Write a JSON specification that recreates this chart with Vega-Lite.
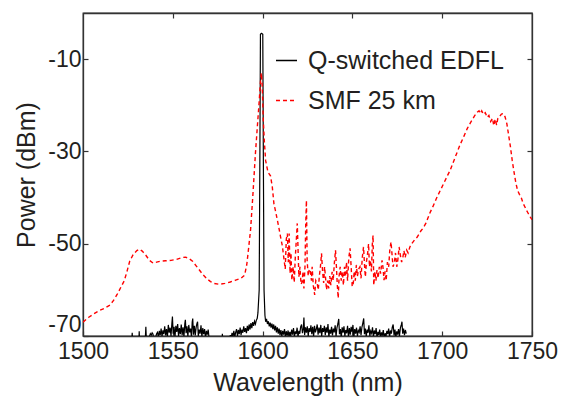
{
"$schema": "https://vega.github.io/schema/vega-lite/v6.json",
"width": 449, "height": 323,
"autosize": "none",
"padding": {"left": 83, "top": 13, "right": 31, "bottom": 64},
"background": "white",
"config": {
  "view": {"stroke": "#333333", "strokeWidth": 1.3},
  "font": "Liberation Sans",
  "axis": {"domainColor": "#333333", "domainWidth": 1.3, "tickColor": "#333333", "tickWidth": 1.2, "tickSize": -5, "grid": false,
           "labelFont": "Liberation Sans", "labelFontSize": 23, "labelColor": "#231f20",
           "titleFont": "Liberation Sans", "titleFontSize": 25, "titleFontWeight": "normal", "titleColor": "#231f20"},
  "legend": {"orient": "none", "legendX": 191, "legendY": 35, "title": null, "labelFont": "Liberation Sans", "labelFontSize": 25, "labelColor": "#231f20", "labelLimit": 0,
             "symbolType": "stroke", "symbolSize": 441, "symbolStrokeWidth": 1.4, "labelOffset": 9, "rowPadding": 14}
},
"resolve": {"axis": {"x": "independent", "y": "independent"}},
"layer": [
{
  "data": {"values": [
{"w":1525,"p":-72},{"w":1527,"p":-72},{"w":1527.4,"p":-69.3},{"w":1527.8,"p":-72},{"w":1531,"p":-72},{"w":1531.3,"p":-69},{"w":1531.6,"p":-72},{"w":1534.5,"p":-72},{"w":1535,"p":-68},{"w":1535.4,"p":-72},{"w":1537.5,"p":-69.5},{"w":1538,"p":-69.8},{"w":1538.5,"p":-69.3},{"w":1539,"p":-69.6},{"w":1539.5,"p":-72},{"w":1540.5,"p":-70.2},{"w":1541,"p":-69.5},
{"w":1541.5,"p":-69.2},{"w":1542,"p":-70.3},{"w":1542.5,"p":-68.9},{"w":1543,"p":-69.8},{"w":1543.5,"p":-68.4},{"w":1544,"p":-70.1},{"w":1544.5,"p":-68.8},{"w":1545,"p":-69.6},{"w":1545.5,"p":-67.9},{"w":1546,"p":-69.9},{"w":1546.5,"p":-68.5},{"w":1547,"p":-70.2},{"w":1547.5,"p":-67.6},{"w":1548,"p":-69.3},{"w":1548.5,"p":-68.2},{"w":1549,"p":-70},{"w":1549.5,"p":-67.2},{"w":1549.8,"p":-65.8},{"w":1550.2,"p":-69.5},{"w":1550.7,"p":-68},{"w":1551.2,"p":-70.3},{"w":1551.7,"p":-67.8},{"w":1552.2,"p":-69.1},{"w":1552.7,"p":-67.4},{"w":1553.2,"p":-70},{"w":1553.7,"p":-68.3},{"w":1554.2,"p":-69.6},{"w":1554.7,"p":-67.5},{"w":1555.2,"p":-69.8},{"w":1555.7,"p":-68.1},{"w":1556.2,"p":-70.2},{"w":1556.7,"p":-67.3},{"w":1557,"p":-66.5},{"w":1557.4,"p":-69.4},{"w":1557.9,"p":-67.9},{"w":1558.4,"p":-70.1},{"w":1558.9,"p":-67.6},{"w":1559.4,"p":-69.2},{"w":1559.9,"p":-68.4},{"w":1560.4,"p":-70.3},{"w":1560.8,"p":-67},{"w":1561.1,"p":-66.2},{"w":1561.5,"p":-69.7},{"w":1562,"p":-67.8},{"w":1562.5,"p":-69.9},{"w":1563,"p":-68.1},{"w":1563.5,"p":-67.2},{"w":1563.8,"p":-66.9},{"w":1564.2,"p":-70},{"w":1564.7,"p":-68.6},{"w":1565.2,"p":-69.5},{"w":1565.7,"p":-67.7},{"w":1566.2,"p":-70.2},{"w":1566.7,"p":-68.3},{"w":1567.2,"p":-69.6},{"w":1567.7,"p":-68.5},{"w":1568.2,"p":-70.4},{"w":1568.7,"p":-68.9},{"w":1569.2,"p":-69.7},{"w":1569.7,"p":-68.6},{"w":1570.2,"p":-70.5},{"w":1570.6,"p":-72},
{"w":1577.3,"p":-72},{"w":1577.6,"p":-69.5},{"w":1577.9,"p":-72},{"w":1581.5,"p":-72},{"w":1582,"p":-69.8},
{"w":1582.5,"p":-70.4},{"w":1583,"p":-69.3},{"w":1583.5,"p":-70.1},{"w":1584,"p":-68.9},{"w":1584.5,"p":-70.3},{"w":1585,"p":-69.2},{"w":1585.5,"p":-68.5},{"w":1586,"p":-70},{"w":1586.5,"p":-68.7},{"w":1587,"p":-69.6},{"w":1587.5,"p":-68.2},{"w":1588,"p":-69.8},{"w":1588.5,"p":-68.6},{"w":1589,"p":-69.3},{"w":1589.5,"p":-67.9},{"w":1590,"p":-69.1},{"w":1590.5,"p":-68.3},{"w":1591,"p":-69.4},{"w":1591.5,"p":-67.8},{"w":1592,"p":-68.9},{"w":1592.5,"p":-67.5},{"w":1593,"p":-68.6},{"w":1593.5,"p":-67.2},{"w":1594,"p":-68.3},{"w":1594.5,"p":-67},{"w":1595,"p":-67.8},{"w":1595.5,"p":-66.8},{"w":1596,"p":-67.4},{"w":1596.5,"p":-66.6},{"w":1597,"p":-66.2},{"w":1597.4,"p":-65},
{"w":1598.1,"p":-60},{"w":1598.5,"p":-30},{"w":1598.8,"p":-4.6},{"w":1599.3,"p":-4.4},{"w":1599.8,"p":-4.5},{"w":1600.1,"p":-4.6},{"w":1600.4,"p":-30},{"w":1600.8,"p":-60},{"w":1601.3,"p":-65.5},
{"w":1601.7,"p":-66.9},{"w":1602.2,"p":-66.3},{"w":1602.7,"p":-67.4},{"w":1603.2,"p":-66.8},{"w":1603.7,"p":-67.9},{"w":1604.2,"p":-67.1},{"w":1604.7,"p":-68.2},{"w":1605.2,"p":-67.3},{"w":1605.7,"p":-68.5},{"w":1606.2,"p":-67.5},{"w":1606.7,"p":-68.8},{"w":1607.2,"p":-67.8},{"w":1607.7,"p":-69.2},{"w":1608.2,"p":-68.1},{"w":1608.7,"p":-69.5},{"w":1609.2,"p":-68.4},{"w":1609.7,"p":-69.8},{"w":1610.2,"p":-68.7},{"w":1610.7,"p":-70.1},{"w":1611.2,"p":-68.9},{"w":1611.7,"p":-69.7},{"w":1612.2,"p":-68.5},{"w":1612.7,"p":-70.2},{"w":1613.2,"p":-69},{"w":1613.7,"p":-69.9},{"w":1614.2,"p":-68.8},{"w":1614.7,"p":-70.3},{"w":1615.2,"p":-69.1},{"w":1615.7,"p":-70},{"w":1616.2,"p":-68.6},{"w":1616.7,"p":-69.7},{"w":1617.2,"p":-68.3},{"w":1617.7,"p":-70.1},{"w":1618.2,"p":-69},{"w":1618.7,"p":-69.6},{"w":1619.2,"p":-68.2},{"w":1619.7,"p":-70.2},{"w":1620.2,"p":-68.9},{"w":1620.7,"p":-69.5},{"w":1621.2,"p":-68},{"w":1621.7,"p":-67.5},{"w":1622.2,"p":-69.4},{"w":1622.7,"p":-68.4},{"w":1623,"p":-66},{"w":1623.4,"p":-69.8},{"w":1623.9,"p":-68.1},{"w":1624.4,"p":-69.3},{"w":1624.9,"p":-67.9},{"w":1625.4,"p":-70},{"w":1625.9,"p":-68.3},{"w":1626.4,"p":-69.1},{"w":1626.9,"p":-67.7},{"w":1627.4,"p":-69.6},{"w":1627.9,"p":-68},{"w":1628.4,"p":-70.1},{"w":1628.9,"p":-67.8},{"w":1629.4,"p":-69.2},{"w":1629.9,"p":-68.5},{"w":1630.4,"p":-67.5},{"w":1630.9,"p":-69.7},{"w":1631.4,"p":-68.2},{"w":1631.9,"p":-69.4},{"w":1632.4,"p":-67.6},{"w":1632.9,"p":-70},{"w":1633.4,"p":-68.3},{"w":1633.9,"p":-69.1},{"w":1634.4,"p":-67.8},{"w":1634.9,"p":-69.8},{"w":1635.4,"p":-68.1},{"w":1635.9,"p":-69.3},{"w":1636.4,"p":-67.4},{"w":1636.9,"p":-70.2},{"w":1637.4,"p":-68.6},{"w":1637.9,"p":-69.5},{"w":1638.4,"p":-68},{"w":1638.9,"p":-69.9},{"w":1639.4,"p":-68.4},{"w":1639.9,"p":-69.2},{"w":1640.4,"p":-67.7},{"w":1640.9,"p":-70.1},{"w":1641.4,"p":-68.2},{"w":1641.9,"p":-67.4},{"w":1642.4,"p":-66.3},{"w":1642.8,"p":-69.6},{"w":1643.3,"p":-68.5},{"w":1643.8,"p":-70.4},{"w":1644.3,"p":-68.1},{"w":1644.8,"p":-69.3},{"w":1645.3,"p":-67.9},{"w":1645.8,"p":-70},{"w":1646.3,"p":-68.7},{"w":1646.8,"p":-69.4},{"w":1647.3,"p":-67.8},{"w":1647.8,"p":-70.2},{"w":1648.3,"p":-68.3},{"w":1648.8,"p":-69.7},{"w":1649.3,"p":-68},{"w":1649.8,"p":-69.1},{"w":1650.3,"p":-67.6},{"w":1650.8,"p":-70.3},{"w":1651.3,"p":-68.5},{"w":1651.8,"p":-69.5},{"w":1652.3,"p":-68.2},{"w":1652.8,"p":-70},{"w":1653.3,"p":-68.8},{"w":1653.8,"p":-69.2},{"w":1654.3,"p":-67.9},{"w":1654.8,"p":-69.8},{"w":1655.3,"p":-68.1},{"w":1655.8,"p":-67.2},{"w":1656.3,"p":-66.2},{"w":1656.7,"p":-69.6},{"w":1657.2,"p":-68.4},{"w":1657.7,"p":-70.1},{"w":1658.2,"p":-68.6},{"w":1658.7,"p":-69.3},{"w":1659.2,"p":-67.7},{"w":1659.7,"p":-70},{"w":1660.2,"p":-68.9},{"w":1660.7,"p":-69.4},{"w":1661.2,"p":-68.1},{"w":1661.7,"p":-70.2},{"w":1662.2,"p":-68.8},{"w":1662.7,"p":-69.6},{"w":1663.2,"p":-68.3},{"w":1663.7,"p":-70.4},{"w":1664.2,"p":-69.1},{"w":1664.7,"p":-69.8},{"w":1665.2,"p":-68.6},{"w":1665.7,"p":-70.3},{"w":1666.2,"p":-69.2},{"w":1666.7,"p":-69.9},{"w":1667.2,"p":-68.7},{"w":1667.7,"p":-70.5},{"w":1668.2,"p":-69.4},{"w":1668.7,"p":-70.1},{"w":1669.2,"p":-68.9},{"w":1669.7,"p":-69.6},{"w":1670.2,"p":-68.4},{"w":1670.7,"p":-70.2},{"w":1671.2,"p":-68.8},{"w":1671.7,"p":-69.5},{"w":1672.2,"p":-68.1},{"w":1672.7,"p":-67.5},{"w":1673.2,"p":-69.9},{"w":1673.7,"p":-68.6},{"w":1674.2,"p":-70.3},{"w":1674.7,"p":-69},{"w":1675.2,"p":-69.7},{"w":1675.7,"p":-68.5},{"w":1676.2,"p":-70},{"w":1676.7,"p":-68.3},{"w":1677.2,"p":-67.6},{"w":1677.6,"p":-66.9},{"w":1678,"p":-69.5},{"w":1678.5,"p":-68.4},{"w":1679,"p":-69.8},{"w":1679.5,"p":-68.7},{"w":1680,"p":-69.5}
  ]},
  "mark": {"type": "line", "clip": true, "strokeWidth": 1.2},
  "encoding": {
    "x": {"field": "w", "type": "quantitative", "scale": {"domain": [1500, 1750], "nice": false, "zero": false},
          "axis": {"orient": "bottom", "values": [1500, 1550, 1600, 1650, 1700, 1750], "labelExpr": "datum.value + ''", "labelFlush": false, "title": "Wavelength (nm)", "titleFontSize": 25, "labelPadding": 9, "titlePadding": 7}},
    "y": {"field": "p", "type": "quantitative", "scale": {"domain": [-70, 0], "nice": false, "zero": false},
          "axis": {"orient": "left", "values": [-70, -50, -30, -10], "labelExpr": "datum.value + ''", "labelFlush": true, "title": "Power (dBm)", "labelPadding": 7, "titlePadding": 8}},
    "color": {"datum": "Q-switched EDFL", "type": "nominal", "scale": {"domain": ["Q-switched EDFL", "SMF 25 km"], "range": ["#000000", "#ff0000"]}, "legend": {"title": null}},
    "strokeDash": {"datum": "Q-switched EDFL", "type": "nominal", "scale": {"domain": ["Q-switched EDFL", "SMF 25 km"], "range": [[1, 0], [4, 3]]}, "legend": {"title": null}}
  }
},
{
  "data": {"values": [
{"w":1500,"p":-67},{"w":1503,"p":-66},{"w":1506,"p":-65.2},{"w":1509,"p":-64.5},{"w":1512,"p":-64},{"w":1515,"p":-63.3},{"w":1517,"p":-62.3},{"w":1519,"p":-61},{"w":1521,"p":-59.5},{"w":1523,"p":-58},{"w":1524.5,"p":-56},{"w":1526,"p":-53.8},{"w":1528,"p":-52.3},{"w":1530,"p":-51.5},{"w":1531.5,"p":-51.2},{"w":1533,"p":-51.6},{"w":1535,"p":-52.5},{"w":1537,"p":-53.6},{"w":1539,"p":-54.2},{"w":1541,"p":-54},{"w":1543,"p":-53.8},{"w":1546,"p":-53.7},{"w":1549,"p":-53.6},{"w":1552,"p":-53.4},{"w":1555,"p":-53},{"w":1557,"p":-52.9},{"w":1559,"p":-53.2},{"w":1561,"p":-53.8},{"w":1563,"p":-54.8},{"w":1565,"p":-55.8},{"w":1567,"p":-56.8},{"w":1569,"p":-57.6},{"w":1571,"p":-58.2},{"w":1573,"p":-58.6},{"w":1576,"p":-58.8},{"w":1579,"p":-58.6},{"w":1582,"p":-58.3},{"w":1585,"p":-57.9},{"w":1588,"p":-57.5},{"w":1590,"p":-56.8},{"w":1591.2,"p":-54.5},{"w":1592.2,"p":-51},{"w":1593.3,"p":-47},{"w":1594.5,"p":-40},{"w":1596,"p":-30.5},{"w":1597,"p":-25},{"w":1598,"p":-19.7},{"w":1598.8,"p":-15},{"w":1599.3,"p":-13},{"w":1599.8,"p":-16},{"w":1600.4,"p":-23.3},{"w":1601,"p":-28},{"w":1601.7,"p":-32},{"w":1603,"p":-34.5},{"w":1604.4,"p":-35.3},{"w":1605.4,"p":-37.7},{"w":1606.3,"p":-41.3},{"w":1607.5,"p":-43.5},{"w":1609,"p":-46.4},{"w":1610,"p":-48.5},{"w":1611,"p":-50.5},{"w":1612,"p":-53.6},
{"w":1612.6,"p":-55.5},{"w":1613.2,"p":-49},{"w":1613.8,"p":-47.8},{"w":1614.3,"p":-54},{"w":1614.8,"p":-47.8},{"w":1615.3,"p":-56.4},{"w":1615.8,"p":-52},{"w":1616.3,"p":-57.9},{"w":1617,"p":-55},{"w":1617.6,"p":-58.4},{"w":1618.2,"p":-53},{"w":1618.8,"p":-49},{"w":1619.3,"p":-45.6},{"w":1619.8,"p":-52},{"w":1620.2,"p":-57.2},{"w":1620.8,"p":-55},{"w":1621.4,"p":-58.8},{"w":1622,"p":-58.3},{"w":1622.5,"p":-56},{"w":1623,"p":-59.7},{"w":1623.6,"p":-55},{"w":1624,"p":-46},{"w":1624.4,"p":-40.6},{"w":1624.8,"p":-53.6},{"w":1625.4,"p":-57},{"w":1626,"p":-55.5},{"w":1626.7,"p":-56.1},{"w":1627.2,"p":-58},{"w":1627.6,"p":-55},{"w":1628.2,"p":-59},{"w":1629,"p":-61.1},{"w":1629.6,"p":-58},{"w":1630.4,"p":-58.6},{"w":1631,"p":-60},{"w":1631.6,"p":-57},{"w":1632.2,"p":-55},{"w":1632.8,"p":-52.1},{"w":1633.4,"p":-56},{"w":1634,"p":-58.5},{"w":1634.5,"p":-55},{"w":1635,"p":-57.2},{"w":1635.6,"p":-60},{"w":1636.2,"p":-58},{"w":1636.8,"p":-59.7},{"w":1637.4,"p":-57},{"w":1638,"p":-59},{"w":1638.7,"p":-56.1},{"w":1639.3,"p":-58},{"w":1640,"p":-54},{"w":1640.6,"p":-51.4},{"w":1641.1,"p":-55},{"w":1641.6,"p":-59},{"w":1642.1,"p":-61.8},{"w":1642.6,"p":-57},{"w":1643.2,"p":-55},{"w":1643.8,"p":-58},{"w":1644.4,"p":-56},{"w":1645,"p":-59},{"w":1645.6,"p":-55},{"w":1646.1,"p":-57.2},{"w":1646.7,"p":-54},{"w":1647.3,"p":-58},{"w":1648,"p":-53},{"w":1648.7,"p":-51},{"w":1649.3,"p":-55},{"w":1649.9,"p":-59.3},{"w":1650.5,"p":-58.6},{"w":1651,"p":-56},{"w":1651.6,"p":-58},{"w":1652.2,"p":-54.6},{"w":1652.8,"p":-57},{"w":1653.5,"p":-55.5},{"w":1654.2,"p":-55},{"w":1654.8,"p":-57.5},{"w":1655.5,"p":-53},{"w":1656.2,"p":-50.7},{"w":1656.8,"p":-55},{"w":1657.2,"p":-57.2},{"w":1657.8,"p":-54},{"w":1658.5,"p":-52},{"w":1659,"p":-50},{"w":1659.5,"p":-55},{"w":1660,"p":-53.6},{"w":1660.6,"p":-56},{"w":1661.1,"p":-50},{"w":1661.5,"p":-48.2},{"w":1661.9,"p":-59},{"w":1662.5,"p":-56},{"w":1663.1,"p":-58},{"w":1663.7,"p":-55.7},{"w":1664.3,"p":-57.5},{"w":1665,"p":-55},{"w":1665.7,"p":-56.5},{"w":1666.5,"p":-53.6},{"w":1667,"p":-55},{"w":1667.6,"p":-57.9},{"w":1668.2,"p":-56},{"w":1668.8,"p":-58},{"w":1669.5,"p":-54},{"w":1670.2,"p":-55},{"w":1670.8,"p":-51.5},{"w":1671.5,"p":-49.6},{"w":1672,"p":-52},{"w":1672.6,"p":-55},{"w":1673.3,"p":-54.3},{"w":1674,"p":-52},{"w":1674.7,"p":-55},{"w":1675.3,"p":-53.5},{"w":1676,"p":-50.7},{"w":1676.7,"p":-52.5},{"w":1677.4,"p":-54},{"w":1678,"p":-53.2},{"w":1678.7,"p":-51.5},{"w":1679.4,"p":-53},{"w":1680.2,"p":-51.4},{"w":1681,"p":-52},{"w":1682,"p":-50.7},{"w":1683,"p":-50},{"w":1684,"p":-49.5},{"w":1685,"p":-49},{"w":1686,"p":-48.6},{"w":1687,"p":-48},{"w":1688,"p":-47.3},{"w":1689,"p":-46.8},{"w":1690,"p":-46.2},{"w":1691,"p":-45.5},{"w":1692,"p":-44.5},{"w":1693.3,"p":-43.2},
{"w":1695,"p":-41.8},{"w":1697,"p":-40},{"w":1699,"p":-38.4},{"w":1701,"p":-36.8},{"w":1703,"p":-35.2},{"w":1704.4,"p":-34.1},{"w":1706,"p":-32.5},{"w":1708,"p":-30.5},{"w":1710,"p":-28.5},{"w":1712,"p":-26.8},{"w":1714,"p":-25},{"w":1716,"p":-23.6},{"w":1718,"p":-22.3},{"w":1719.5,"p":-21.5},{"w":1720.5,"p":-21.2},{"w":1721.3,"p":-21.8},{"w":1722,"p":-21.2},{"w":1723,"p":-22},{"w":1724,"p":-21.6},{"w":1725,"p":-22.6},{"w":1726,"p":-22.2},{"w":1727,"p":-23.5},{"w":1728,"p":-22.8},{"w":1728.7,"p":-24.4},{"w":1729.5,"p":-23},{"w":1730.3,"p":-24.3},{"w":1731,"p":-22.8},{"w":1732,"p":-22.4},{"w":1733,"p":-21.9},{"w":1734,"p":-21.8},{"w":1735,"p":-22.5},{"w":1736,"p":-24},{"w":1737,"p":-26.5},{"w":1738,"p":-29},{"w":1739,"p":-32},{"w":1740,"p":-34.5},{"w":1741,"p":-36.8},{"w":1742,"p":-38.5},{"w":1743,"p":-39.3},{"w":1744,"p":-40},{"w":1745,"p":-41.2},{"w":1746,"p":-42},{"w":1747,"p":-42.8},{"w":1748,"p":-43.5},{"w":1749,"p":-44.2},{"w":1750,"p":-44.8}
  ]},
  "mark": {"type": "line", "clip": true, "strokeWidth": 1.4},
  "encoding": {
    "x": {"field": "w", "type": "quantitative", "scale": {"domain": [1500, 1750], "nice": false, "zero": false},
          "axis": {"orient": "top", "values": [1550, 1600, 1650, 1700], "labels": false, "title": null}},
    "y": {"field": "p", "type": "quantitative", "scale": {"domain": [-70, 0], "nice": false, "zero": false},
          "axis": {"orient": "right", "values": [-50, -30, -10], "labels": false, "title": null}},
    "color": {"datum": "SMF 25 km", "type": "nominal", "scale": {"domain": ["Q-switched EDFL", "SMF 25 km"], "range": ["#000000", "#ff0000"]}, "legend": {"title": null}},
    "strokeDash": {"datum": "SMF 25 km", "type": "nominal", "scale": {"domain": ["Q-switched EDFL", "SMF 25 km"], "range": [[1, 0], [4, 3]]}, "legend": {"title": null}}
  }
}
]
}
